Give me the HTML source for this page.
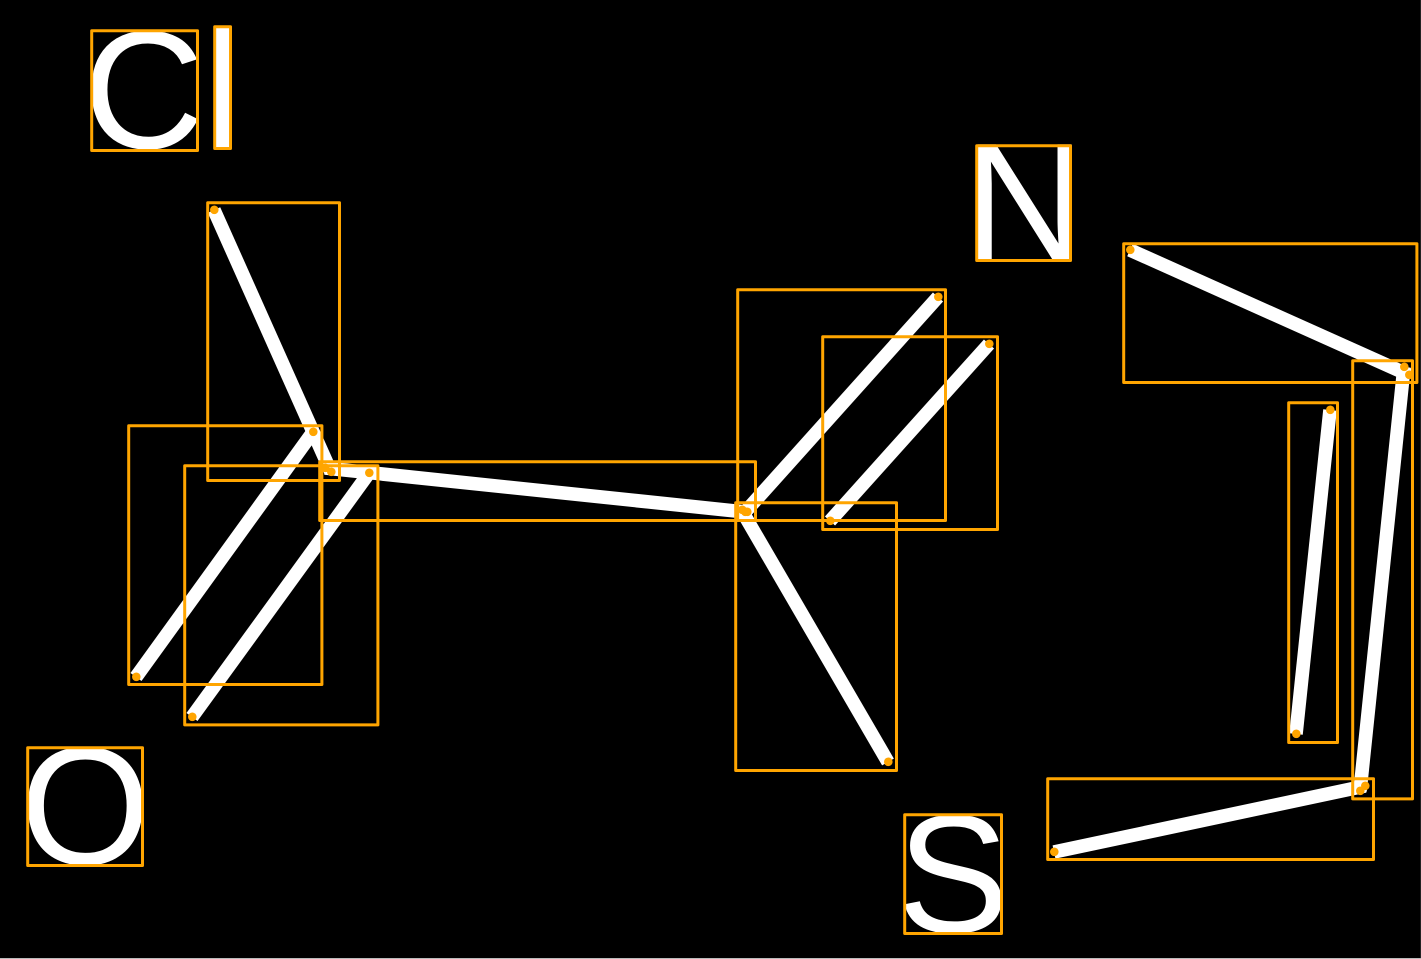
<!DOCTYPE html>
<html>
<head>
<meta charset="utf-8">
<style>
html,body{margin:0;padding:0;background:#000;width:1421px;height:959px;overflow:hidden}
svg{display:block}
text{font-family:"Liberation Sans",sans-serif;font-size:168px;fill:#fff}
.l{stroke:#fff;stroke-width:13.6;fill:none}
.b{fill:none;stroke:#FFA500;stroke-width:3;stroke-linejoin:round}
.d{fill:#FFA500}
</style>
</head>
<body>
<svg width="1421" height="959" viewBox="0 0 1421 959" xmlns="http://www.w3.org/2000/svg">
<rect width="1421" height="959" fill="#000"/>
<rect x="1420" width="1" height="959" fill="#222"/>
<rect y="958" width="1421" height="1" fill="#bbb"/>
<text x="83" y="148">Cl</text>
<text x="964" y="260">N</text>
<text x="20" y="864">O</text>
<text x="897" y="932">S</text>

<line class="l" x1="214" y1="210" x2="331" y2="472"/>
<line class="l" x1="136" y1="677" x2="313" y2="432"/>
<line class="l" x1="192" y1="717" x2="369" y2="473"/>
<line class="l" x1="325" y1="468" x2="745" y2="512"/>
<line class="l" x1="938" y1="297" x2="746" y2="511"/>
<line class="l" x1="989" y1="344" x2="830" y2="521"/>
<line class="l" x1="888" y1="762" x2="742" y2="511"/>
<line class="l" x1="1130" y1="250" x2="1409" y2="375"/>
<line class="l" x1="1404" y1="367" x2="1360" y2="791"/>
<line class="l" x1="1330" y1="410" x2="1296" y2="734"/>
<line class="l" x1="1054" y1="852" x2="1365" y2="786"/>

<g transform="translate(-0.3,-0.3)">
<rect class="b" x="92" y="31" width="105.800" height="119.800"/>
<rect class="b" x="215" y="27" width="15.800" height="121.800"/>
<rect class="b" x="977" y="146" width="93.800" height="114.800"/>
<rect class="b" x="28" y="748" width="114.800" height="117.800"/>
<rect class="b" x="905" y="815" width="96.800" height="118.800"/>
<rect class="b" x="208" y="203" width="131.800" height="277.800"/>
<rect class="b" x="129" y="426" width="193.200" height="258.800"/>
<rect class="b" x="185" y="466" width="193.200" height="259.200"/>
<rect class="b" x="320" y="462" width="435.800" height="58.800"/>
<rect class="b" x="738" y="290" width="207.800" height="230.800"/>
<rect class="b" x="823" y="337" width="174.800" height="192.800"/>
<rect class="b" x="736" y="503" width="160.800" height="267.800"/>
<rect class="b" x="1124" y="244" width="293.200" height="138.800"/>
<rect class="b" x="1353" y="361" width="59.800" height="438.200"/>
<rect class="b" x="1289" y="403" width="48.800" height="339.800"/>
<rect class="b" x="1048" y="779" width="325.800" height="80.800"/>
</g>

<g class="d" transform="translate(0.3,-0.2)">
<circle cx="214" cy="210" r="4.300"/>
<circle cx="331" cy="472" r="4.300"/>
<circle cx="136" cy="677" r="4.300"/>
<circle cx="313" cy="432" r="4.300"/>
<circle cx="192" cy="717" r="4.300"/>
<circle cx="369" cy="473" r="4.300"/>
<circle cx="325" cy="468" r="4.300"/>
<circle cx="742" cy="510" r="4.300"/>
<circle cx="745" cy="512" r="4.300"/>
<circle cx="747" cy="512" r="4.300"/>
<circle cx="938" cy="297" r="4.300"/>
<circle cx="989" cy="344" r="4.300"/>
<circle cx="830" cy="521" r="4.300"/>
<circle cx="888" cy="762" r="4.300"/>
<circle cx="1130" cy="250" r="4.300"/>
<circle cx="1404" cy="367" r="4.300"/>
<circle cx="1409" cy="375" r="4.300"/>
<circle cx="1360" cy="791" r="4.300"/>
<circle cx="1365" cy="786" r="4.300"/>
<circle cx="1330" cy="410" r="4.300"/>
<circle cx="1296" cy="734" r="4.300"/>
<circle cx="1054" cy="852" r="4.300"/>
</g>
</svg>
</body>
</html>
